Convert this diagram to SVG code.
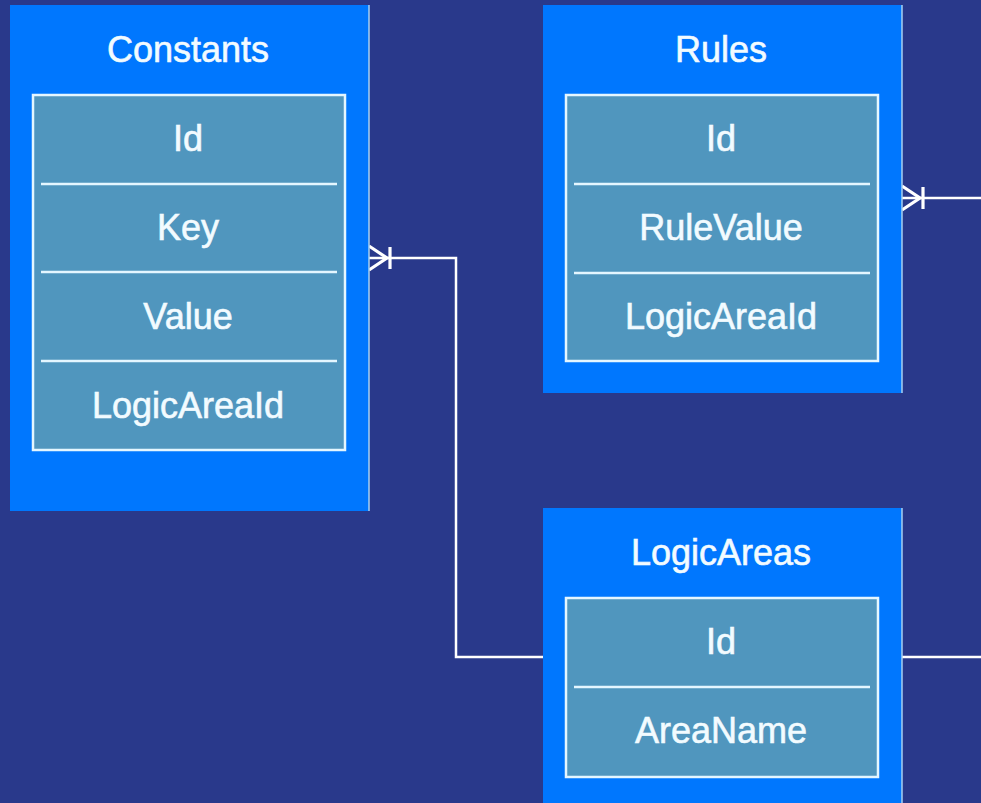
<svg xmlns="http://www.w3.org/2000/svg" width="981" height="803" viewBox="0 0 981 803">
<style>
.bg{fill:#29398b}
.box{fill:#0077fe}
.edge{stroke:#a8d0f0;stroke-width:1.5}
.inner{fill:#5096be;stroke:#e4f6ff;stroke-width:2.5}
.div{stroke:#e4f6ff;stroke-width:2.5}
text{font-family:"Liberation Sans",Arial,sans-serif;font-size:36px;fill:#f2fbff;stroke:#f2fbff;stroke-width:0.6;text-anchor:middle}
.conn{fill:none;stroke:#ffffff;stroke-width:2.5}
.foot{fill:none;stroke:#ffffff;stroke-width:3.2}
</style>
<rect class="bg" x="0" y="0" width="981" height="803"/>
<g id="connectors">
<polyline class="conn" points="369,258 456,258 456,657 543,657"/>
<path class="foot" d="M369,246 L387,258 L369,270 M390,247 V269"/>
<line class="conn" x1="902" y1="198" x2="981" y2="198"/>
<path class="foot" d="M902,186 L920,198 L902,210 M923,187 V209"/>
<line class="conn" x1="902" y1="657" x2="981" y2="657"/>
</g>
<g id="constants">
<rect class="box" x="10" y="5" width="359" height="506"/>
<line class="edge" x1="369" y1="5" x2="369" y2="511"/>
<text x="188" y="62">Constants</text>
<rect class="inner" x="33" y="95" width="312" height="355"/>
<line class="div" x1="41" y1="184" x2="337" y2="184"/>
<line class="div" x1="41" y1="272" x2="337" y2="272"/>
<line class="div" x1="41" y1="361" x2="337" y2="361"/>
<text x="188" y="151">Id</text>
<text x="188" y="240">Key</text>
<text x="188" y="329">Value</text>
<text x="188" y="418">LogicAreaId</text>
</g>
<g id="rules">
<rect class="box" x="543" y="5" width="359" height="388"/>
<line class="edge" x1="902" y1="5" x2="902" y2="393"/>
<text x="721" y="62">Rules</text>
<rect class="inner" x="566" y="95" width="312" height="266"/>
<line class="div" x1="574" y1="184" x2="870" y2="184"/>
<line class="div" x1="574" y1="273" x2="870" y2="273"/>
<text x="721" y="151">Id</text>
<text x="721" y="240">RuleValue</text>
<text x="721" y="329">LogicAreaId</text>
</g>
<g id="logicareas">
<rect class="box" x="543" y="508" width="359" height="300"/>
<line class="edge" x1="902" y1="508" x2="902" y2="803"/>
<text x="721" y="565">LogicAreas</text>
<rect class="inner" x="566" y="598" width="312" height="179"/>
<line class="div" x1="574" y1="687" x2="870" y2="687"/>
<text x="721" y="654">Id</text>
<text x="721" y="743">AreaName</text>
</g>
</svg>
